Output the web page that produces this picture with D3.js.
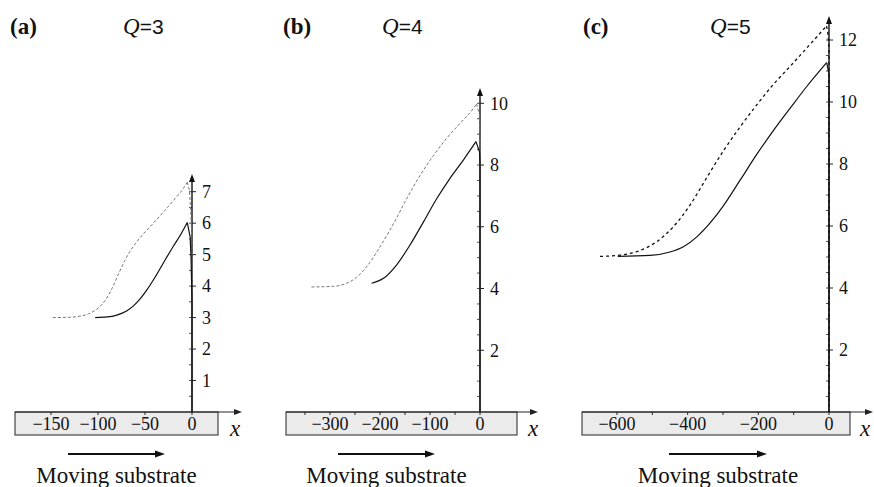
<!DOCTYPE html>
<html>
<head>
<meta charset="utf-8">
<script src="https://cdn.jsdelivr.net/npm/d3@7"></script>
<style>
  body { margin: 0; background: #fff; }
  text { font-family: "Liberation Serif", "Times New Roman", serif; fill: #111; }
</style>
</head>
<body>
<svg id="chart" width="874" height="487"></svg>
<script>
// panel captions
const panelLabels = ["(a)", "(b)", "(c)"];
const qValues = ["3", "4", "5"];

// axis ticks
const xLabelsA = [-150, -100, -50, 0];
const xLabelsB = [-300, -200, -100, 0];
const xLabelsC = [-600, -400, -200, 0];
const xMarksA = [-150, -100, -50, 0];
const xMarksB = [-350, -300, -250, -200, -150, -100, -50, 0];
const xMarksC = [-600, -500, -400, -300, -200, -100, 0];
const yLabelsA = [1, 2, 3, 4, 5, 6, 7];
const yLabelsB = [2, 4, 6, 8, 10];
const yLabelsC = [2, 4, 6, 8, 10, 12];

// film profiles [x, h] (rise, peak, then drop to the axis)
const dashedA = [[-148, 3.0], [-130, 3.01], [-120, 3.04], [-110, 3.12], [-100, 3.3], [-92, 3.56],
  [-85, 3.93], [-78, 4.4], [-72, 4.78], [-66, 5.1], [-60, 5.36], [-52, 5.65], [-42, 5.97],
  [-30, 6.37], [-18, 6.78], [-10, 7.07], [-5, 7.3],
  [-2.8, 7.05], [-1.4, 6.4], [0, 5.4], [0, 0]];
const solidA = [[-103, 3.0], [-90, 3.02], [-80, 3.08], [-70, 3.2], [-62, 3.38], [-55, 3.6],
  [-48, 3.88], [-40, 4.25], [-30, 4.76], [-20, 5.26], [-12, 5.64], [-5, 6.02],
  [-2, 5.57], [-1, 4.9], [0, 3.5], [0, 0]];
const dashedB = [[-337, 4.05], [-293, 4.07], [-267, 4.17], [-247, 4.36], [-227, 4.7], [-200, 5.35],
  [-173, 6.1], [-147, 6.9], [-120, 7.66], [-93, 8.31], [-67, 8.86], [-40, 9.35], [-13, 9.84],
  [-7, 9.98],
  [-1, 9.62], [0, 9.0], [0, 0]];
const solidB = [[-217, 4.17], [-193, 4.33], [-167, 4.76], [-140, 5.41], [-113, 6.16], [-87, 6.9],
  [-60, 7.57], [-33, 8.17], [-8, 8.76],
  [-1, 8.43], [0, 8.0], [0, 0]];
const dashedC = [[-648, 5.02], [-592, 5.06], [-535, 5.21], [-488, 5.49], [-441, 5.97], [-393, 6.68],
  [-346, 7.56], [-299, 8.42], [-252, 9.19], [-205, 9.9], [-158, 10.56], [-110, 11.15],
  [-63, 11.74], [-11, 12.4], [-7, 12.45],
  [-3, 12.2], [0, 11.8], [0, 0]];
const solidC = [[-598, 5.02], [-507, 5.05], [-450, 5.16], [-412, 5.33], [-374, 5.65], [-337, 6.09],
  [-299, 6.65], [-252, 7.47], [-205, 8.3], [-158, 9.07], [-110, 9.8], [-63, 10.5], [-6.5, 11.27],
  [0, 10.9], [0, 0]];

const panels = [
  { label: panelLabels[0], q: qValues[0], xLabels: xLabelsA, xMarks: xMarksA, yLabels: yLabelsA, yMinor: 0.5,
    dashed: dashedA, solid: solidA, dashColor: "#777", dashWidth: 1, dash: "3,2",
    xr: [51, 192], yTopPx: 191.7, yArrow: 174, boxL: 15, boxR: 218, axisEnd: 242, xLab: 235,
    titleX: 10, qX: 123, arrL: 68, arrR: 165 },
  { label: panelLabels[1], q: qValues[1], xLabels: xLabelsB, xMarks: xMarksB, yLabels: yLabelsB, yMinor: 0.5,
    dashed: dashedB, solid: solidB, dashColor: "#777", dashWidth: 1, dash: "3,2",
    xr: [330, 480], yTopPx: 103.3, yArrow: 88, boxL: 286, boxR: 517, axisEnd: 538, xLab: 533,
    titleX: 283, qX: 382, arrL: 338, arrR: 435 },
  { label: panelLabels[2], q: qValues[2], xLabels: xLabelsC, xMarks: xMarksC, yLabels: yLabelsC, yMinor: 0.5,
    dashed: dashedC, solid: solidC, dashColor: "#111", dashWidth: 1.3, dash: "3,3",
    xr: [617, 829], yTopPx: 40, yArrow: 16, boxL: 582, boxR: 850, axisEnd: 873, xLab: 865,
    titleX: 583, qX: 710, arrL: 669, arrR: 767 }
];

const svg = d3.select("#chart");
const baseY = 412;

panels.forEach((p) => {
  const g = svg.append("g");
  const x = d3.scaleLinear().domain([p.xLabels[0], 0]).range(p.xr);
  const y = d3.scaleLinear().domain([0, d3.max(p.yLabels)]).range([baseY, p.yTopPx]);
  const x0 = x(0);

  // titles
  g.append("text").attr("x", p.titleX).attr("y", 34)
    .style("font-size", "23px").style("font-weight", "bold").text(p.label);
  const qt = g.append("text").attr("x", p.qX).attr("y", 34).style("font-size", "23px");
  qt.append("tspan").style("font-style", "italic").text("Q");
  qt.append("tspan").style("font-family", "'Liberation Sans', Arial, sans-serif")
    .style("font-size", "21px").text("=" + p.q);

  // x axis box
  g.append("rect").attr("x", p.boxL).attr("y", baseY).attr("width", p.boxR - p.boxL).attr("height", 23)
    .attr("fill", "#ebebeb").attr("stroke", "#222").attr("stroke-width", 1);
  g.append("line").attr("x1", p.boxL).attr("x2", p.axisEnd - 6).attr("y1", baseY).attr("y2", baseY)
    .attr("stroke", "#222").attr("stroke-width", 1);
  g.append("path")
    .attr("d", `M${p.axisEnd},${baseY}L${p.axisEnd - 8},${baseY - 3}L${p.axisEnd - 8},${baseY + 3}Z`)
    .attr("fill", "#222");
  g.selectAll(".xmark").data(p.xMarks).enter().append("line")
    .attr("x1", (d) => x(d)).attr("x2", (d) => x(d)).attr("y1", baseY).attr("y2", baseY + 3)
    .attr("stroke", "#222").attr("stroke-width", 1);
  g.selectAll(".xlab").data(p.xLabels).enter().append("text")
    .attr("x", (d) => x(d)).attr("y", baseY + 18).attr("text-anchor", "middle")
    .style("font-size", "18px")
    .text((d) => (d < 0 ? "\u2212" + Math.abs(d) : d));
  g.append("text").attr("x", p.xLab).attr("y", 436).attr("text-anchor", "middle")
    .style("font-size", "23px").style("font-style", "italic").text("x");

  // y axis
  g.append("line").attr("x1", x0).attr("x2", x0).attr("y1", baseY).attr("y2", p.yArrow + 6)
    .attr("stroke", "#111").attr("stroke-width", 1.4);
  g.append("path")
    .attr("d", `M${x0},${p.yArrow}L${x0 - 3},${p.yArrow + 8}L${x0 + 3},${p.yArrow + 8}Z`)
    .attr("fill", "#111");
  const yMax = d3.max(p.yLabels);
  g.selectAll(".ymin").data(d3.range(p.yMinor, yMax + 0.01, p.yMinor)).enter().append("line")
    .attr("x1", x0 - 3).attr("x2", x0).attr("y1", (d) => y(d)).attr("y2", (d) => y(d))
    .attr("stroke", "#222").attr("stroke-width", 0.8);
  g.selectAll(".ymaj").data(p.yLabels).enter().append("line")
    .attr("x1", x0).attr("x2", x0 + 4).attr("y1", (d) => y(d)).attr("y2", (d) => y(d))
    .attr("stroke", "#222").attr("stroke-width", 1);
  g.selectAll(".ylab").data(p.yLabels).enter().append("text")
    .attr("x", x0 + 10).attr("y", (d) => y(d)).attr("dy", "0.35em")
    .style("font-size", "18px").text((d) => d);

  // profiles: smooth rise up to the peak, then straight drop along the wall
  const drawProfile = (pts, color, width, dash) => {
    const peak = d3.maxIndex(pts, (d) => d[1]);
    const rise = pts.slice(0, peak + 1);
    const drop = pts.slice(peak);
    const riseLine = d3.line().x((d) => x(d[0])).y((d) => y(d[1])).curve(d3.curveMonotoneX);
    const dropLine = d3.line().x((d) => x(d[0])).y((d) => y(d[1]));
    [riseLine(rise), dropLine(drop)].forEach((dd) => {
      g.append("path").attr("d", dd).attr("fill", "none")
        .attr("stroke", color).attr("stroke-width", width)
        .attr("stroke-dasharray", dash);
    });
  };
  drawProfile(p.dashed, p.dashColor, p.dashWidth, p.dash);
  drawProfile(p.solid, "#111", 1.2, null);

  // moving substrate arrow
  const ay = 454;
  g.append("line").attr("x1", p.arrL).attr("x2", p.arrR - 8).attr("y1", ay).attr("y2", ay)
    .attr("stroke", "#111").attr("stroke-width", 2);
  g.append("path")
    .attr("d", `M${p.arrR},${ay}L${p.arrR - 10},${ay - 3.5}L${p.arrR - 10},${ay + 3.5}Z`)
    .attr("fill", "#111");
  g.append("text").attr("x", (p.arrL + p.arrR) / 2).attr("y", 483).attr("text-anchor", "middle")
    .style("font-size", "23px").text("Moving substrate");
});
</script>
</body>
</html>
